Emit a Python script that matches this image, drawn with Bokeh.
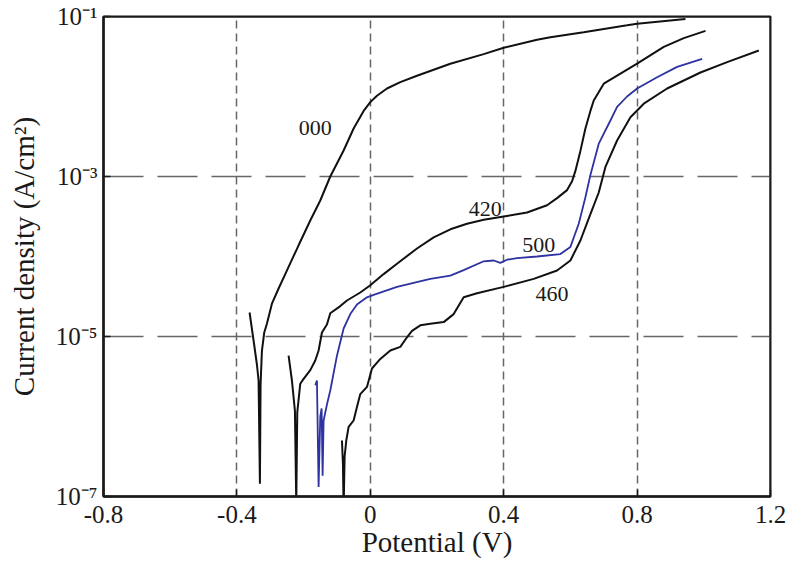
from bokeh.plotting import figure
from bokeh.models import FixedTicker, CustomJSTickFormatter, Span
from bokeh.core.properties import value
from bokeh.embed import file_html
from bokeh.resources import INLINE

# ---- data (potential in V, current density as log10(A/cm^2)) ----
v000 = [-0.362, -0.350, -0.340, -0.335, -0.331, -0.329, -0.325, -0.318, -0.310, -0.295, -0.275,
        -0.255, -0.235, -0.215, -0.180, -0.150, -0.120, -0.080, -0.050, -0.020, 0.000, 0.020,
        0.050, 0.090, 0.140, 0.240, 0.340, 0.400, 0.500, 0.540, 0.640, 0.770, 0.800, 0.945]
i000 = [-4.70, -5.05, -5.35, -5.55, -6.84, -5.60, -5.18, -4.95, -4.84, -4.59, -4.40,
        -4.22, -4.04, -3.86, -3.55, -3.30, -3.00, -2.675, -2.40, -2.18, -2.07, -1.99,
        -1.90, -1.82, -1.74, -1.59, -1.47, -1.39, -1.29, -1.26, -1.196, -1.11, -1.09, -1.03]

v420 = [-0.245, -0.235, -0.226, -0.222, -0.219, -0.210, -0.200, -0.180, -0.165, -0.155, -0.145,
        -0.130, -0.120, -0.090, -0.070, -0.030, 0.000, 0.040, 0.080, 0.140, 0.190, 0.240,
        0.290, 0.340, 0.400, 0.470, 0.530, 0.560, 0.590, 0.605, 0.615, 0.630, 0.645, 0.660,
        0.670, 0.700, 0.740, 0.800, 0.880, 0.940, 1.005]
i420 = [-5.24, -5.55, -5.93, -7.09, -5.95, -5.59, -5.53, -5.42, -5.30, -5.175, -4.95,
        -4.85, -4.71, -4.62, -4.55, -4.45, -4.36, -4.22, -4.09, -3.90, -3.76, -3.66,
        -3.59, -3.54, -3.50, -3.45, -3.36, -3.27, -3.17, -3.06, -2.93, -2.68, -2.40, -2.18,
        -2.05, -1.84, -1.74, -1.59, -1.38, -1.27, -1.18]

v500 = [-0.165, -0.160, -0.155, -0.150, -0.146, -0.143, -0.140, -0.130, -0.120, -0.100, -0.080,
        -0.060, -0.040, -0.010, 0.010, 0.080, 0.180, 0.240, 0.280, 0.340, 0.370, 0.390,
        0.410, 0.440, 0.500, 0.570, 0.600, 0.625, 0.645, 0.660, 0.685, 0.720, 0.740, 0.770,
        0.800, 0.860, 0.920, 0.995]
i500 = [-5.61, -5.55, -6.88, -6.00, -5.90, -6.74, -6.05, -5.85, -5.675, -5.24, -4.90,
        -4.72, -4.60, -4.51, -4.48, -4.38, -4.28, -4.24, -4.17, -4.06, -4.05, -4.08,
        -4.04, -4.02, -4.00, -3.97, -3.88, -3.59, -3.26, -2.98, -2.59, -2.30, -2.13, -2.00,
        -1.90, -1.76, -1.63, -1.53]

v460 = [-0.085, -0.082, -0.080, -0.077, -0.072, -0.065, -0.050, -0.040, -0.030, -0.010, 0.005,
        0.030, 0.060, 0.090, 0.110, 0.125, 0.150, 0.180, 0.220, 0.250, 0.280, 0.320,
        0.400, 0.490, 0.560, 0.600, 0.630, 0.660, 0.685, 0.705, 0.740, 0.780, 0.820, 0.890,
        0.990, 1.070, 1.165]
i460 = [-6.30, -6.60, -7.17, -6.50, -6.30, -6.13, -6.05, -5.88, -5.72, -5.63, -5.40,
        -5.28, -5.175, -5.13, -5.01, -4.93, -4.86, -4.84, -4.82, -4.72, -4.51, -4.46,
        -4.38, -4.28, -4.175, -4.05, -3.80, -3.47, -3.20, -2.88, -2.55, -2.26, -2.09, -1.90,
        -1.70, -1.57, -1.425]

curve_names = ["000", "420", "500", "460"]
label_v = [-0.165, 0.345, 0.505, 0.545]
label_i = [-2.39, -3.41, -3.86, -4.47]

x_ticks = [-0.8, -0.4, 0.0, 0.4, 0.8, 1.2]
x_tick_labels = ["-0.8", "-0.4", "0", "0.4", "0.8", "1.2"]
x_grid = [-0.4, 0.0, 0.4, 0.8]
y_ticks = [1e-7, 1e-5, 1e-3, 1e-1]
y_tick_labels = ["10\u207b\u2077", "10\u207b\u2075", "10\u207b\u00b3", "10\u207b\u00b9"]
y_grid = [1e-5, 1e-3]

SERIF = "Liberation Serif"
INK = "#1a1a1a"

p = figure(width=790, height=565, x_range=(-0.8, 1.2), y_range=(1e-7, 1e-1),
           y_axis_type="log", output_backend="svg", toolbar_location=None,
           min_border_left=103, min_border_right=20, min_border_top=16, min_border_bottom=69)
p.background_fill_color = "white"
p.border_fill_color = "white"
p.outline_line_color = INK
p.outline_line_width = 2

def fmt(tick_vals, tick_text):
    return CustomJSTickFormatter(args=dict(tv=tick_vals, tl=tick_text), code="""
        for (let k = 0; k < tv.length; k++) {
            const t = tv[k];
            if (Math.abs(t - tick) <= 1e-6 * Math.abs(t) + 1e-12) { return tl[k]; }
        }
        return "";
    """)

p.xaxis.ticker = FixedTicker(ticks=x_ticks, minor_ticks=[])
p.xaxis.formatter = fmt(x_ticks, x_tick_labels)
p.yaxis.ticker = FixedTicker(ticks=y_ticks, minor_ticks=[])
p.yaxis.formatter = fmt(y_ticks, y_tick_labels)

for ax in (p.xaxis, p.yaxis):
    ax.axis_line_color = INK
    ax.axis_line_width = 2.5
    ax.major_tick_in = 7
    ax.major_tick_out = 0
    ax.major_tick_line_color = INK
    ax.major_tick_line_width = 1.5
    ax.minor_tick_line_color = None
    ax.major_label_text_font = SERIF
    ax.major_label_text_font_size = "25px"
    ax.major_label_text_color = INK
    ax.axis_label_text_font = SERIF
    ax.axis_label_text_font_style = "normal"
    ax.axis_label_text_font_size = "29px"
    ax.axis_label_text_color = INK

p.xaxis.axis_label = "Potential (V)"
p.xaxis.major_label_standoff = 9
p.xaxis.axis_label_standoff = 0
p.yaxis.axis_label = "Current density (A/cm\u00b2)"
p.yaxis.major_label_standoff = 6
p.yaxis.axis_label_standoff = 13

p.xgrid.ticker = FixedTicker(ticks=x_grid, minor_ticks=[])
p.xgrid.grid_line_color = "#666666"
p.xgrid.grid_line_width = 1.5
p.xgrid.grid_line_dash = "8 5"
p.ygrid.ticker = FixedTicker(ticks=y_grid, minor_ticks=[])
p.ygrid.grid_line_color = "#666666"
p.ygrid.grid_line_width = 1.5
p.ygrid.grid_line_dash = "40 14"

# frame top and right edges
p.add_layout(Span(location=1.2, dimension="height", line_color=INK, line_width=2))
p.add_layout(Span(location=1e-1, dimension="width", line_color=INK, line_width=2))

def to_i(logs):
    return [10 ** v for v in logs]

p.line(v000, to_i(i000), line_color="#111111", line_width=2)
p.line(v420, to_i(i420), line_color="#111111", line_width=2)
p.line(v460, to_i(i460), line_color="#111111", line_width=2)
p.line(v500, to_i(i500), line_color="#2d33a0", line_width=1.8)

p.text(x=label_v, y=to_i(label_i), text=curve_names, text_font=value(SERIF),
       text_font_size="22px", text_color=INK, text_align="center",
       text_baseline="middle")

open("out.html", "w").write(file_html(p, INLINE))
